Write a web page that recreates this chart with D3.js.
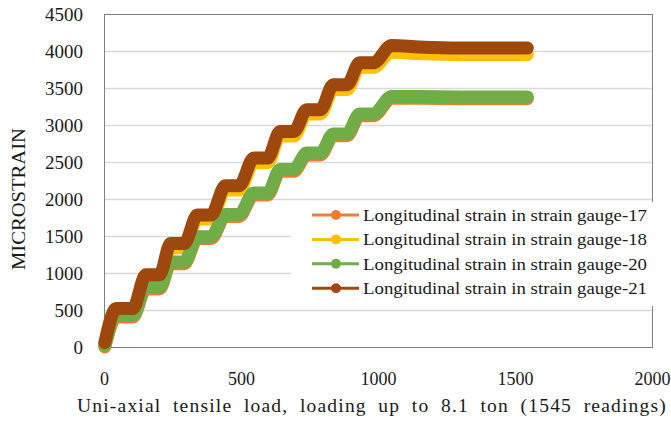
<!DOCTYPE html>
<html>
<head>
<meta charset="utf-8">
<script src="https://cdn.jsdelivr.net/npm/d3@7"></script>
<style>
  body { margin: 0; background: #fff; }
  text { font-family: "Liberation Serif", "Times New Roman", serif; fill: #1a1a1a; }
</style>
</head>
<body>
<script>
// reading number at each corner of the staircase (shared by all gauges)
var loadX = [3, 45, 105, 153, 203, 243, 293, 341, 391, 443, 493, 547, 597, 643, 693,
             740, 790, 837, 887, 933, 983, 1050, 1150, 1300, 1545];

// microstrain at those readings
var gauge17 = [0, 405, 405, 785, 785, 1125, 1125, 1465, 1465, 1765, 1765, 2055, 2055,
               2375, 2375, 2595, 2595, 2855, 2855, 3125, 3125, 3360, 3360, 3355, 3355];
var gauge18 = [30, 470, 470, 920, 920, 1340, 1340, 1730, 1730, 2120, 2120, 2490, 2490,
               2850, 2850, 3150, 3150, 3480, 3480, 3780, 3780, 3985, 3965, 3950, 3950];
var gauge20 = [20, 430, 430, 810, 810, 1150, 1150, 1490, 1490, 1790, 1790, 2080, 2080,
               2400, 2400, 2620, 2620, 2880, 2880, 3150, 3150, 3385, 3385, 3380, 3380];
var gauge21 = [60, 520, 520, 975, 975, 1400, 1400, 1785, 1785, 2180, 2180, 2553, 2553,
               2913, 2913, 3207, 3207, 3545, 3545, 3840, 3840, 4075, 4055, 4040, 4040];

var seriesNames = ['Longitudinal strain in strain gauge-17', 'Longitudinal strain in strain gauge-18',
                   'Longitudinal strain in strain gauge-20', 'Longitudinal strain in strain gauge-21'];
var seriesColors = ['#ED7D31', '#FFC000', '#70AD47', '#9E480E'];
var xTicks = [0, 500, 1000, 1500, 2000];
var yTicks = [0, 500, 1000, 1500, 2000, 2500, 3000, 3500, 4000, 4500];

var allSeries = [gauge17, gauge18, gauge20, gauge21];

var svg = d3.select('body').append('svg')
  .attr('width', 671)
  .attr('height', 426);

var plotLeft = 104, plotRight = 652, plotTop = 14, plotBottom = 347;

var x = d3.scaleLinear().domain([0, 2000]).range([plotLeft, plotRight]);
var y = d3.scaleLinear().domain([0, 4500]).range([plotBottom, plotTop]);

// horizontal gridlines
svg.append('g').selectAll('line').data(yTicks.slice(1, -1)).enter()
  .append('line')
  .attr('x1', plotLeft).attr('x2', plotRight)
  .attr('y1', function(d) { return Math.round(y(d)) + 0.5; })
  .attr('y2', function(d) { return Math.round(y(d)) + 0.5; })
  .attr('stroke', '#d9d9d9').attr('stroke-width', 1.3);

// plot border
svg.append('rect')
  .attr('x', plotLeft + 0.5).attr('y', plotTop + 0.5)
  .attr('width', plotRight - plotLeft).attr('height', plotBottom - plotTop)
  .attr('fill', 'none').attr('stroke', '#7f7f7f').attr('stroke-width', 1);

// y axis labels
var yAxis = d3.axisLeft(y).tickValues(yTicks).tickFormat(d3.format('d')).tickSize(0).tickPadding(21);
svg.append('g').attr('transform', 'translate(' + plotLeft + ',0)').call(yAxis)
  .attr('font-family', null)
  .call(function(g) { g.select('.domain').remove(); })
  .selectAll('text')
  .style('font-size', '19px').attr('fill', '#1a1a1a');

// x axis labels
var xAxis = d3.axisBottom(x).tickValues(xTicks).tickFormat(d3.format('d')).tickSize(0).tickPadding(25);
svg.append('g').attr('transform', 'translate(0,' + plotBottom + ')').call(xAxis)
  .attr('font-family', null)
  .call(function(g) { g.select('.domain').remove(); })
  .selectAll('text')
  .style('font-size', '18px').attr('fill', '#1a1a1a');

// the thick lines (markers on every reading make them look thick)
var line = d3.line()
  .curve(d3.curveMonotoneX)
  .x(function(d, i) { return x(loadX[i]); })
  .y(function(d) { return y(d); });

svg.append('g').selectAll('path').data(allSeries).enter()
  .append('path')
  .attr('d', line)
  .attr('fill', 'none')
  .attr('stroke', function(d, i) { return seriesColors[i]; })
  .attr('stroke-width', 13)
  .attr('stroke-linecap', 'round')
  .attr('stroke-linejoin', 'round');

// legend
var legend = svg.append('g');
legend.append('rect')
  .attr('x', 291).attr('y', 202).attr('width', 370).attr('height', 104)
  .attr('fill', '#fff');

var rows = legend.selectAll('g.row').data(seriesNames).enter()
  .append('g').attr('class', 'row')
  .attr('transform', function(d, i) { return 'translate(0,' + (215 + i * 24.4) + ')'; });

rows.append('line')
  .attr('x1', 312).attr('x2', 359).attr('y1', 0).attr('y2', 0)
  .attr('stroke', function(d, i) { return seriesColors[i]; })
  .attr('stroke-width', 3);
rows.append('circle')
  .attr('cx', 336).attr('cy', 0).attr('r', 5)
  .attr('fill', function(d, i) { return seriesColors[i]; });
rows.append('text')
  .attr('x', 363).attr('y', 6)
  .attr('textLength', 284).attr('lengthAdjust', 'spacingAndGlyphs')
  .style('font-size', '17px')
  .text(function(d) { return d; });

// x title: words spread out evenly between 77 and 667, like the justified original
var titleWords = 'Uni-axial tensile load, loading up to 8.1 ton (1545 readings)'.split(' ');
var wordNodes = svg.append('g').selectAll('text').data(titleWords).enter()
  .append('text')
  .attr('y', 412)
  .style('font-size', '19.5px')
  .style('letter-spacing', '1.2px')
  .text(function(d) { return d; });
var widths = [];
wordNodes.each(function() { widths.push(this.getComputedTextLength()); });
var gap = (590 - d3.sum(widths)) / (titleWords.length - 1);
var pos = 77;
wordNodes.attr('x', function(d, i) {
  var p = pos;
  pos += widths[i] + gap;
  return p;
});

svg.append('text')
  .attr('transform', 'translate(25,199) rotate(-90)')
  .attr('text-anchor', 'middle')
  .attr('textLength', 142).attr('lengthAdjust', 'spacingAndGlyphs')
  .style('font-size', '19.5px')
  .text('MICROSTRAIN');
</script>
</body>
</html>
